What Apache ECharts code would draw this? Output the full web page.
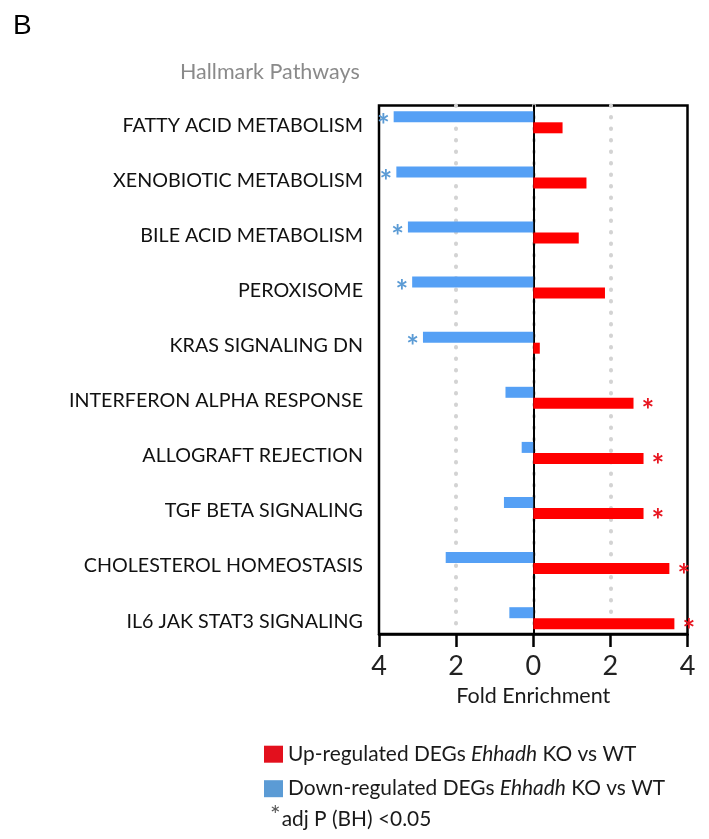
<!DOCTYPE html>
<html>
<head>
<meta charset="utf-8">
<script src="https://cdn.jsdelivr.net/npm/echarts@6/dist/echarts.min.js"></script>
<style>html,body{margin:0;padding:0;background:#fff}#c{width:709px;height:839px}</style>
</head>
<body>
<div id="c"></div>
<script>
const categories = ['FATTY ACID METABOLISM','XENOBIOTIC METABOLISM','BILE ACID METABOLISM','PEROXISOME','KRAS SIGNALING DN','INTERFERON ALPHA RESPONSE','ALLOGRAFT REJECTION','TGF BETA SIGNALING','CHOLESTEROL HOMEOSTASIS','IL6 JAK STAT3 SIGNALING'];
const downValues = [3.62, 3.55, 3.25, 3.14, 2.86, 0.72, 0.30, 0.76, 2.27, 0.62];
const upValues = [0.76, 1.38, 1.18, 1.86, 0.17, 2.60, 2.86, 2.86, 3.53, 3.66];
const downSig = [1,1,1,1,1,0,0,0,0,0];
const upSig = [0,0,0,0,0,1,1,1,1,1];
const xTicks = [-4, -2, 0, 2, 4];

const FONT = 'Lato';
const chart = echarts.init(document.getElementById('c'), null, {renderer: 'canvas'});
const gridL = 379, gridR = 709 - 687.5;
const option = {
  animation: false,
  backgroundColor: '#fff',
  grid: [
    {left: gridL, right: gridR, top: 94.75, height: 551, containLabel: false},
    {left: gridL, right: gridR, top: 105.5, bottom: 839 - 634, show: true, borderColor: '#000', borderWidth: 2.5, backgroundColor: 'transparent'}
  ],
  xAxis: [
    {gridIndex: 0, type: 'value', min: -4, max: 4, interval: 2, show: false},
    {gridIndex: 1, type: 'value', min: xTicks[0], max: xTicks[xTicks.length-1], interval: 2,
     axisLine: {show: true, onZero: false, lineStyle: {color: '#000', width: 2.5}},
     axisTick: {show: true, length: 13, lineStyle: {color: '#000', width: 2.5}},
     axisLabel: {fontFamily: FONT, fontSize: 27, color: '#222', margin: 19, formatter: v => String(Math.abs(v))},
     splitLine: {show: true, showMinLine: false, showMaxLine: false, lineStyle: {color: '#d3d3d3', width: 4, type: [0.5, 11], cap: 'round'}},
     name: 'Fold Enrichment', nameLocation: 'middle', nameGap: 51,
     nameTextStyle: {fontFamily: FONT, fontSize: 21.5, color: '#1a1a1a'}}
  ],
  yAxis: [
    {gridIndex: 0, type: 'category', data: categories, inverse: true,
     axisLine: {show: false}, axisTick: {show: false},
     axisLabel: {margin: 16, formatter: v => '{a|' + v + '}',
       rich: {a: {fontFamily: FONT, fontSize: 19.7, color: '#111', padding: [6,0,0,0]}}}},
    {gridIndex: 1, type: 'category', data: categories, inverse: true,
     axisLine: {show: true, onZero: true, lineStyle: {color: '#000', width: 2}},
     axisTick: {show: false}, axisLabel: {show: false}}
  ],
  legend: {
    orient: 'vertical', left: 264, top: 743.7, padding: 0,
    itemWidth: 19, itemHeight: 17, itemGap: 13.5, icon: 'rect',
    data: [
      {name: 'Up-regulated', itemStyle: {color: '#e3101d'}},
      {name: 'Down-regulated', itemStyle: {color: '#5b9bd5'}}
    ],
    formatter: n => '{n|' + n + ' DEGs }{i|Ehhadh}{n| KO vs WT}',
    textStyle: {
      rich: {
        n: {fontFamily: FONT, fontSize: 20.9, color: '#1a1a1a', lineHeight: 23},
        i: {fontFamily: FONT, fontSize: 20.9, fontStyle: 'italic', color: '#1a1a1a', lineHeight: 23}
      }
    }
  },
  graphic: [
    {type: 'text', left: 13, top: 12, style: {text: 'B', font: '28px "Liberation Sans"', fill: '#000'}},
    {type: 'text', left: 180, top: 61, style: {text: 'Hallmark Pathways', font: '21.5px Lato', fill: '#8a8a8a'}},
    {type: 'text', left: 270, top: 803, style: {text: '{a|*}{t|adj P (BH) <0.05}', rich: {
      a: {font: '25px Lato', fill: '#555', padding: [0,1,8,0]},
      t: {font: '20.9px Lato', fill: '#1a1a1a'}
    }}}
  ],
  series: [
    {name: 'Down-regulated', type: 'bar', xAxisIndex: 0, yAxisIndex: 0,
     data: downValues.map(v => -v), barWidth: 11, barGap: '0%',
     itemStyle: {color: '#55a0f5'},
     label: {show: true, position: 'left', distance: 4, offset: [0, 10], formatter: p => downSig[p.dataIndex] ? '*' : '',
       fontFamily: FONT, fontSize: 30, fontWeight: 'bold', color: '#5b9bd5', padding: [12,0,0,0]}},
    {name: 'Up-regulated', type: 'bar', xAxisIndex: 0, yAxisIndex: 0,
     data: upValues, barWidth: 11, barGap: '0%',
     itemStyle: {color: '#ff0000'},
     label: {show: true, position: 'right', distance: 8, offset: [0, 8], formatter: p => upSig[p.dataIndex] ? '*' : '',
       fontFamily: FONT, fontSize: 30, fontWeight: 'bold', color: '#e8141e', padding: [12,0,0,0]}}
  ]
};
chart.setOption(option);
</script>
</body>
</html>
